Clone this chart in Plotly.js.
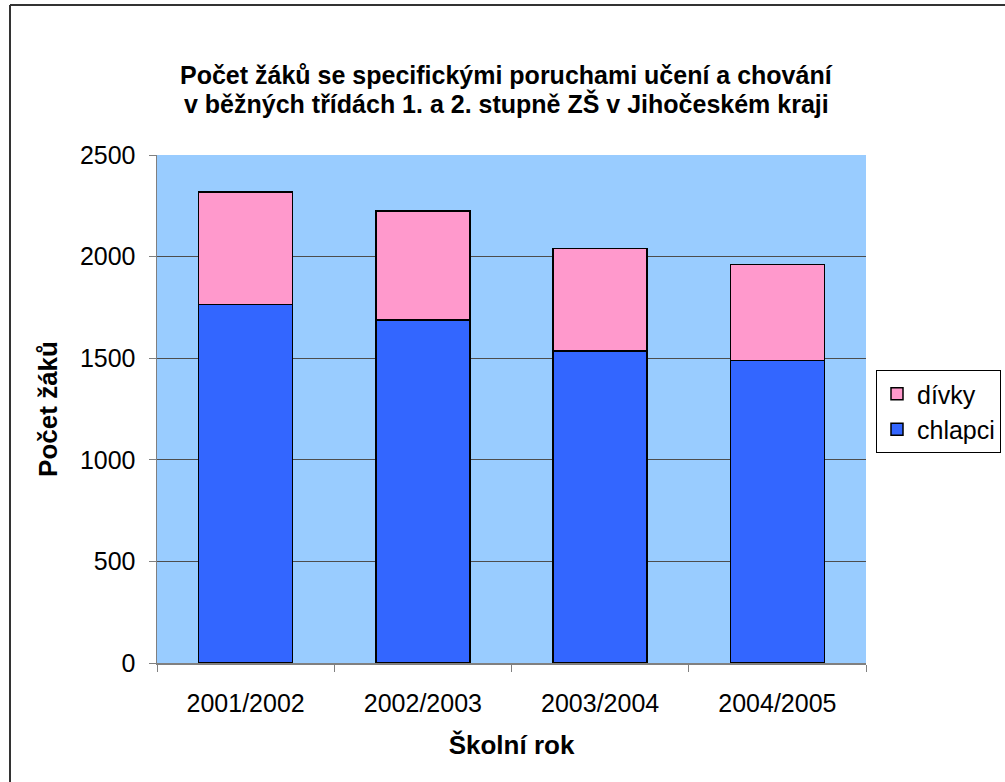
<!DOCTYPE html>
<html>
<head>
<meta charset="utf-8">
<script src="https://cdn.plot.ly/plotly-3.0.1.min.js"></script>
<style>html,body{margin:0;padding:0;background:#fff;}#chart{width:1005px;height:782px;}</style>
</head>
<body>
<div id="chart"></div>
<script>
const categories = ["2001/2002", "2002/2003", "2003/2004", "2004/2005"];
const chlapci = [1765, 1688, 1535, 1488];
const divky = [553, 536, 506, 474];
const yTicks = [0, 500, 1000, 1500, 2000, 2500];
const titleLines = ["Počet žáků se specifickými poruchami učení a chování",
                    "v běžných třídách 1. a 2. stupně ZŠ v Jihočeském kraji"];

const font = "Arial, 'Liberation Sans', sans-serif";
const L = 157, R = 866, T = 155, B = 663, W = 1005, H = 782;
const px2x = p => (p - L) / (R - L);
const py2y = p => (B - p) / (B - T);

const traces = [
  {type: "bar", name: "chlapci", x: categories, y: chlapci,
   marker: {color: "#3366FF", line: {color: "#000", width: 1.5}}},
  {type: "bar", name: "dívky", x: categories, y: divky,
   marker: {color: "#FF99CC", line: {color: "#000", width: 1.5}}}
];

const layout = {
  width: W, height: H,
  margin: {l: L, r: W - R, t: T, b: H - B, pad: 0, autoexpand: false},
  paper_bgcolor: "#fff", plot_bgcolor: "#99CCFF",
  barmode: "stack", bargap: 0.47,
  font: {family: font, size: 25, color: "#000"},
  xaxis: {type: "category", tickson: "boundaries", ticks: "outside", ticklen: 7, tickcolor: "#808080",
          showline: true, linecolor: "#808080", linewidth: 1.5, showgrid: false,
          tickfont: {size: 25}, automargin: false, ticklabelstandoff: 17,
          title: {text: "<b>Školní rok</b>", font: {size: 26}, standoff: 20}},
  yaxis: {range: [0, 2500], tickvals: yTicks, ticks: "outside", ticklen: 7, tickcolor: "#808080",
          showline: true, linecolor: "#808080", linewidth: 1.5,
          showgrid: true, gridcolor: "#4d4d4d", gridwidth: 1, zeroline: false,
          tickfont: {size: 25}, automargin: false, ticklabelstandoff: 8,
          title: {text: "<b>Počet žáků</b>", font: {size: 26}, standoff: 15}},
  legend: {x: px2x(1001), xanchor: "right", y: py2y(370), yanchor: "top",
           traceorder: "reversed", bgcolor: "#fff", bordercolor: "#000", borderwidth: 1,
           font: {size: 25}},
  annotations: titleLines.map((t, i) => ({
    text: "<b>" + t + "</b>", xref: "paper", yref: "paper",
    x: px2x(506), xanchor: "center", y: py2y(i === 0 ? 75 : 104), yanchor: "middle",
    showarrow: false, font: {family: font, size: 25, color: "#000"}
  })),
  shapes: [
    {type: "line", xref: "paper", yref: "paper", x0: px2x(10), x1: px2x(1020), y0: py2y(5), y1: py2y(5),
     line: {color: "#333", width: 2}},
    {type: "line", xref: "paper", yref: "paper", x0: px2x(10), x1: px2x(10), y0: py2y(5), y1: py2y(800),
     line: {color: "#333", width: 2}}
  ],
  showlegend: true
};

Plotly.newPlot("chart", traces, layout, {displayModeBar: false, staticPlot: true});
</script>
</body>
</html>
